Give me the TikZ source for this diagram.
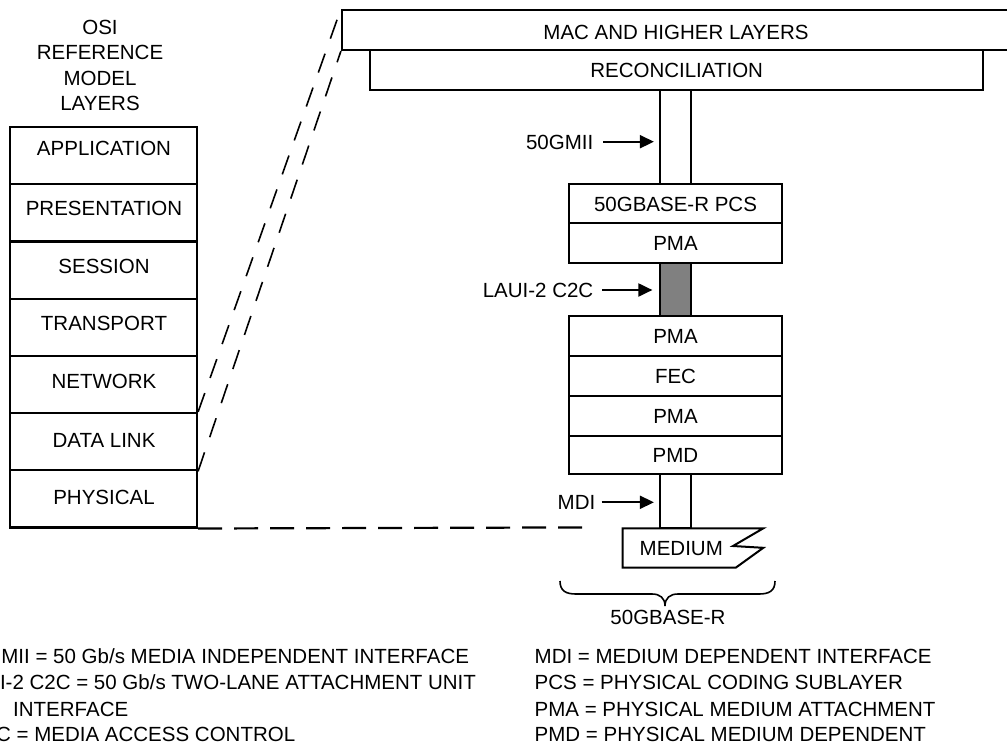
\documentclass[tikz,border=0pt]{standalone}
\usepackage{fontspec}
\setmainfont{Liberation Sans}
\usetikzlibrary{arrows.meta}
\begin{document}
\begin{tikzpicture}[x=1pt,y=-1pt,
  txt/.style={font=\fontsize{20.5}{24}\selectfont, inner sep=0pt, text height=14.7pt, text depth=0pt},
  osibox/.style={draw, line width=2.2pt, minimum width=187pt, minimum height=57.2pt, inner sep=0pt},
  stackbox/.style={txt, draw, line width=2.2pt, minimum width=213pt, minimum height=40pt},
  pipe/.style={draw, line width=2.2pt, minimum width=31pt, inner sep=0pt},
  dsh/.style={line width=1.6pt, dash pattern=on 20pt off 16pt},
  hdsh/.style={line width=2.2pt, dash pattern=on 24pt off 12pt},
  arr/.style={line width=2pt, -{Triangle[length=14pt,width=13pt]}}
]
\useasboundingbox (0,0) rectangle (1007,745);

% OSI heading
\node[txt] (osi1) at (100,27.3) {OSI};
\node[txt] (osi2) at (100,52.5) {REFERENCE};
\node[txt] (osi3) at (100,78) {MODEL};
\node[txt] (osi4) at (100,103) {LAYERS};

% OSI stack
\node[osibox] (app)  at (103.5,155.6) {};
\node[osibox] (pres) at (103.5,212.8) {};
\node[osibox] (sess) at (103.5,270.0) {};
\node[osibox] (trans) at (103.5,327.2) {};
\node[osibox] (net)  at (103.5,384.4) {};
\node[osibox] (dl)   at (103.5,441.6) {};
\node[osibox] (phys) at (103.5,498.8) {};
\node[txt] (tapp)  at (104,148) {APPLICATION};
\node[txt] (tpres) at (104,208) {PRESENTATION};
\node[txt] (tsess) at (104,266) {SESSION};
\node[txt] (ttrans) at (104,323) {TRANSPORT};
\node[txt] (tnet)  at (104,381) {NETWORK};
\node[txt] (tdl)   at (104,440.5) {DATA LINK};
\node[txt] (tphys) at (104,497) {PHYSICAL};

% pipes
\node[pipe, minimum height=94pt] (pipe1) at (675.5,137) {};
\node[pipe, minimum height=52.7pt, fill={rgb,255:red,128;green,128;blue,128}] (pipe2) at (675.5,289.65) {};
\node[pipe, minimum height=53.7pt] (pipe3) at (675.5,501.15) {};

% MAC and reconciliation
\node[draw, line width=2.2pt, minimum width=688pt, minimum height=40pt, inner sep=0pt] (mac) at (686,30) {};
\node[txt] (tmac) at (676,32) {MAC AND HIGHER LAYERS};
\node[stackbox, minimum width=613.3pt] (recon) at (676.65,70) {RECONCILIATION};

% right stack
\node[stackbox, minimum height=39.3pt] (pcs) at (675.5,203.65) {50GBASE-R PCS};
\node[stackbox] (pma1) at (675.5,243.3) {PMA};
\node[stackbox] (pma2) at (675.5,336) {PMA};
\node[stackbox] (fec)  at (675.5,376) {FEC};
\node[stackbox] (pma3) at (675.5,416) {PMA};
\node[stackbox, minimum height=38.3pt] (pmd) at (675.5,455.15) {PMD};

% medium
\draw[line width=2pt, line join=miter] (622.7,528.3) -- (763.3,528.3) -- (733,546) -- (763.3,547.8) -- (736,567.5) -- (622.7,567.5) -- cycle;
\node[txt] (medium) at (681.3,547.7) {MEDIUM};

% interface labels and arrows
\node[txt, anchor=east] (gmii) at (593.5,141.7) {50GMII};
\node[txt, anchor=east] (laui) at (593.5,290) {LAUI-2 C2C};
\node[txt, anchor=east] (mdi)  at (595.5,502.3) {MDI};
\draw[arr, shorten <=9.5pt, shorten >=5pt] (gmii.east) -- (gmii.east -| pipe1.west);
\draw[arr, shorten <=8.5pt, shorten >=6.5pt] (laui.east) -- (laui.east -| pipe2.west);
\draw[arr, shorten <=6pt, shorten >=5pt] (mdi.east) -- (mdi.east -| pipe3.west);

% dashed connections
\coordinate (dashend) at (590,527.4);
\draw[dsh] (dl.north east) -- (mac.north west);
\draw[dsh] (dl.south east) -- (mac.south west);
\draw[hdsh] (phys.south east) -- (dashend);

% brace
\draw[line width=1.6pt] (560,581) .. controls (560,591) and (566,594) .. (576,594) -- (652,594)
  .. controls (660,594) and (665,598) .. (665,606) .. controls (665,598) and (670,594) .. (678,594)
  -- (759,594) .. controls (769,594) and (775,591) .. (775,581);
\node[txt] (base) at (668,617) {50GBASE-R};

% legend
\node[txt, anchor=west] (l1) at (1.2,656.5) {MII = 50 Gb/s MEDIA INDEPENDENT INTERFACE};
\node[txt, anchor=west] (l2) at (-0.2,682) {I-2 C2C = 50 Gb/s TWO-LANE ATTACHMENT UNIT};
\node[txt, anchor=west] (l3) at (13,709) {INTERFACE};
\node[txt, anchor=west] (l4) at (-4,734) {C = MEDIA ACCESS CONTROL};
\node[txt, anchor=west] (r1) at (534.5,656) {MDI = MEDIUM DEPENDENT INTERFACE};
\node[txt, anchor=west] (r2) at (534.5,682.5) {PCS = PHYSICAL CODING SUBLAYER};
\node[txt, anchor=west] (r3) at (534.5,709) {PMA = PHYSICAL MEDIUM ATTACHMENT};
\node[txt, anchor=west] (r4) at (534.5,734.5) {PMD = PHYSICAL MEDIUM DEPENDENT};
\end{tikzpicture}
\end{document}
